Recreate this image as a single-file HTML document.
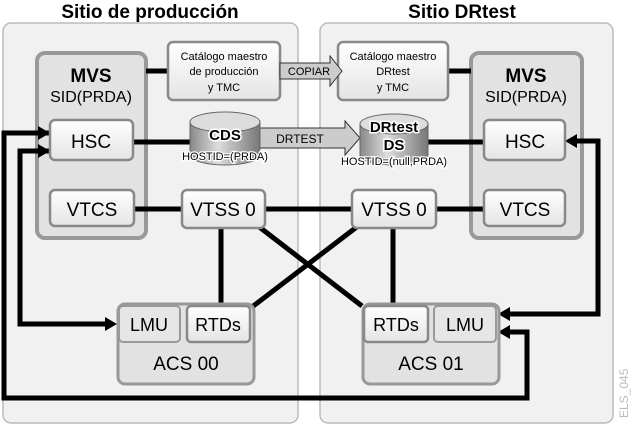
<!DOCTYPE html>
<html><head><meta charset="utf-8"><style>body{margin:0;background:#fff}svg{display:block}text{font-family:"Liberation Sans",sans-serif}</style></head><body>
<svg width="635" height="426" viewBox="0 0 635 426" xmlns="http://www.w3.org/2000/svg">
<defs>
<linearGradient id="w" x1="0" y1="0" x2="0" y2="1"><stop offset="0" stop-color="#fff"/><stop offset="1" stop-color="#e4e4e4"/></linearGradient>
<linearGradient id="cyl" x1="0" y1="0" x2="1" y2="0"><stop offset="0" stop-color="#888"/><stop offset=".4" stop-color="#ddd"/><stop offset="1" stop-color="#777"/></linearGradient>
</defs>
<rect x="3" y="23" width="295" height="400" rx="8" fill="#f1f1f1" stroke="#bbb" stroke-width="1.5"/>
<rect x="320" y="23" width="293" height="400" rx="8" fill="#f1f1f1" stroke="#bbb" stroke-width="1.5"/>
<text x="150" y="18" font-size="19" font-weight="bold" text-anchor="middle">Sitio de producción</text>
<text x="462" y="18" font-size="19" font-weight="bold" text-anchor="middle">Sitio DRtest</text>
<text transform="translate(628,418) rotate(-90)" font-size="12" fill="#bbb">ELS_045</text>
<!-- MVS boxes -->
<rect x="37" y="53" width="109" height="185" rx="8" fill="#e2e2e2" stroke="#999" stroke-width="4"/>
<rect x="471" y="53" width="111" height="185" rx="8" fill="#e2e2e2" stroke="#999" stroke-width="4"/>
<text x="91" y="82" font-size="19" font-weight="bold" text-anchor="middle">MVS</text>
<text x="91" y="102" font-size="16" text-anchor="middle">SID(PRDA)</text>
<text x="526" y="82" font-size="19" font-weight="bold" text-anchor="middle">MVS</text>
<text x="526" y="102" font-size="16" text-anchor="middle">SID(PRDA)</text>
<!-- lines -->
<g stroke="#000" stroke-width="5" fill="none">
<line x1="146" y1="71" x2="168" y2="71"/>
<line x1="448" y1="71" x2="471" y2="71"/>
<line x1="133" y1="142" x2="192" y2="142"/>
<line x1="426" y1="142" x2="484" y2="142"/>
<line x1="133" y1="209" x2="484" y2="209"/>
<line x1="221" y1="228" x2="221" y2="305"/>
<line x1="393" y1="228" x2="393" y2="305"/>
<line x1="258" y1="226" x2="362" y2="306"/>
<line x1="358" y1="226" x2="252" y2="307"/>
<polyline points="50,133 4,133 4,398 527,398 527,332 507,332"/>
<polyline points="50,151 20,151 20,324 108,324"/>
<polyline points="573,141 598,141 598,314 507,314"/>
</g>
<g fill="#000">
<polygon points="50,133 38,126 38,140"/>
<polygon points="50,151 38,144 38,158"/>
<polygon points="117,324 105,317 105,331"/>
<polygon points="565,141 577,134 577,148"/>
<polygon points="498,314 510,307 510,321"/>
<polygon points="498,332 510,325 510,339"/>
</g>
<!-- boxes -->
<g stroke="#888" stroke-width="2.5" fill="url(#w)">
<rect x="168" y="42" width="112" height="58" rx="5"/>
<rect x="338" y="42" width="110" height="58" rx="5"/>
<rect x="50" y="120" width="83" height="40" rx="5"/>
<rect x="484" y="120" width="81" height="40" rx="5"/>
<rect x="50" y="190" width="84" height="36" rx="5"/>
<rect x="484" y="190" width="81" height="36" rx="5"/>
<rect x="182" y="190" width="83" height="38" rx="5"/>
<rect x="352" y="190" width="84" height="38" rx="5"/>
</g>
<text x="224" y="60" font-size="11" text-anchor="middle">Catálogo maestro</text>
<text x="224" y="75" font-size="11" text-anchor="middle">de producción</text>
<text x="224" y="91" font-size="11" text-anchor="middle">y TMC</text>
<text x="393" y="60" font-size="11" text-anchor="middle">Catálogo maestro</text>
<text x="393" y="75" font-size="11" text-anchor="middle">DRtest</text>
<text x="393" y="91" font-size="11" text-anchor="middle">y TMC</text>
<text x="91" y="148" font-size="19" text-anchor="middle">HSC</text>
<text x="525" y="148" font-size="19" text-anchor="middle">HSC</text>
<text x="92" y="216" font-size="19" text-anchor="middle">VTCS</text>
<text x="525" y="216" font-size="19" text-anchor="middle">VTCS</text>
<text x="223" y="216" font-size="19" text-anchor="middle">VTSS 0</text>
<text x="394" y="216" font-size="19" text-anchor="middle">VTSS 0</text>
<!-- arrows COPIAR / DRTEST -->
<polygon points="280,63 330,63 330,56 342,71 330,86 330,79 280,79" fill="#ccc" stroke="#333" stroke-width="1"/>
<text x="309" y="75" font-size="11" text-anchor="middle">COPIAR</text>
<polygon points="258,128 345,128 345,121 360,138 345,155 345,148 258,148" fill="#ccc" stroke="#333" stroke-width="1"/>
<text x="300" y="143" font-size="12" text-anchor="middle">DRTEST</text>
<!-- cylinders -->
<path d="M190,122 v33 a35,10 0 0 0 70,0 v-33" fill="url(#cyl)" stroke="#666"/>
<ellipse cx="225" cy="122" rx="35" ry="10" fill="#ddd" stroke="#666"/>
<text x="225" y="140" font-size="15" font-weight="bold" text-anchor="middle" fill="#000" stroke="#fff" stroke-width="3" paint-order="stroke">CDS</text>
<text x="225" y="160" font-size="11" text-anchor="middle" stroke="#fff" stroke-width="2.5" paint-order="stroke">HOSTID=(PRDA)</text>
<path d="M360,124 v31 a34,10 0 0 0 68,0 v-31" fill="url(#cyl)" stroke="#666"/>
<ellipse cx="394" cy="124" rx="34" ry="10" fill="#ddd" stroke="#666"/>
<text x="394" y="132" font-size="15" font-weight="bold" text-anchor="middle" stroke="#fff" stroke-width="3" paint-order="stroke">DRtest</text>
<text x="394" y="150" font-size="15" font-weight="bold" text-anchor="middle" stroke="#fff" stroke-width="3" paint-order="stroke">DS</text>
<text x="394" y="165" font-size="11" text-anchor="middle" stroke="#fff" stroke-width="2.5" paint-order="stroke">HOSTID=(null,PRDA)</text>
<!-- ACS -->
<rect x="118" y="304" width="136" height="80" rx="7" fill="#e2e2e2" stroke="#999" stroke-width="3"/>
<rect x="363" y="304" width="136" height="80" rx="7" fill="#e2e2e2" stroke="#999" stroke-width="3"/>
<rect x="119" y="306" width="61" height="36" rx="4" fill="#e6e6e6" stroke="#999" stroke-width="2"/>
<rect x="187" y="306" width="63" height="36" rx="4" fill="url(#w)" stroke="#888" stroke-width="2.5"/>
<rect x="364" y="306" width="64" height="36" rx="4" fill="url(#w)" stroke="#888" stroke-width="2.5"/>
<rect x="434" y="306" width="62" height="36" rx="4" fill="#e6e6e6" stroke="#999" stroke-width="2"/>
<text x="149" y="331" font-size="18" text-anchor="middle">LMU</text>
<text x="218" y="331" font-size="18" text-anchor="middle">RTDs</text>
<text x="396" y="331" font-size="18" text-anchor="middle">RTDs</text>
<text x="465" y="331" font-size="18" text-anchor="middle">LMU</text>
<text x="186" y="370" font-size="19" text-anchor="middle">ACS 00</text>
<text x="431" y="370" font-size="19" text-anchor="middle">ACS 01</text>
</svg>
</body></html>
